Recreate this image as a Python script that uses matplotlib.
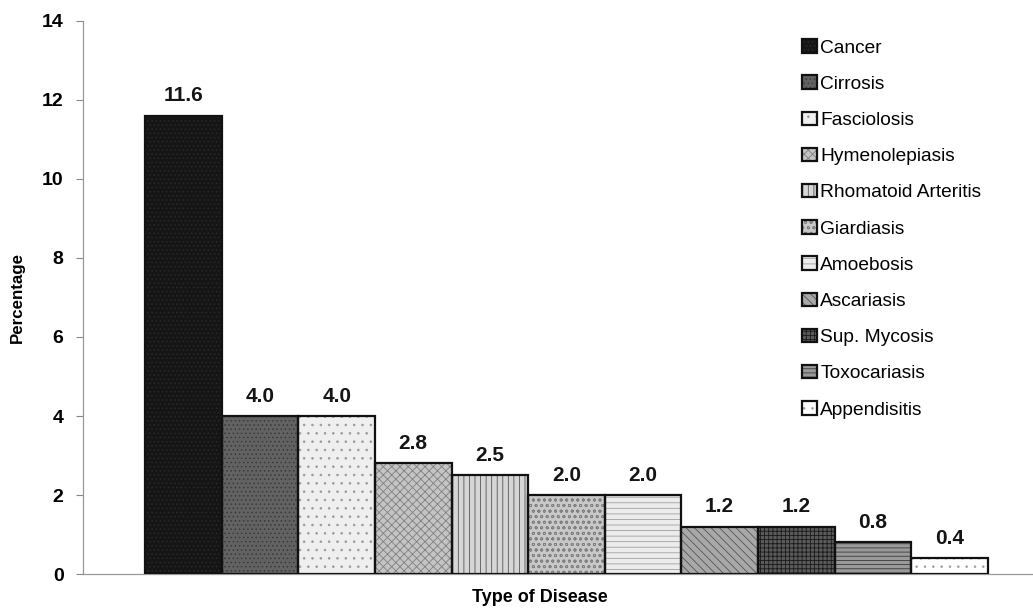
import matplotlib.pyplot as plt

plt.rcParams['font.family'] = ['Liberation Sans', 'DejaVu Sans']
plt.rcParams['hatch.linewidth'] = 0.6

# data
diseases = ["Cancer", "Cirrosis", "Fasciolosis", "Hymenolepiasis",
            "Rhomatoid Arteritis", "Giardiasis", "Amoebosis", "Ascariasis",
            "Sup. Mycosis", "Toxocariasis", "Appendisitis"]
percent = [11.6, 4.0, 4.0, 2.8, 2.5, 2.0, 2.0, 1.2, 1.2, 0.8, 0.4]
value_labels = ["11.6", "4.0", "4.0", "2.8", "2.5", "2.0", "2.0", "1.2", "1.2", "0.8", "0.4"]

# fill, hatch colour, hatch pattern per bar (grey-scale print look)
fills = ["#151515", "#626262", "#efefef", "#c4c4c4", "#d6d6d6", "#c8c8c8",
         "#ececec", "#a8a8a8", "#5a5a5a", "#9a9a9a", "#ffffff"]
hatch_cols = ["#2a2a2a", "#3a3a3a", "#9a9a9a", "#808080", "#555555", "#808080",
              "#a0a0a0", "#555555", "#1a1a1a", "#3a3a3a", "#a0a0a0"]
hatches = ["....", "....", "..", "xxxx", "|||", "ooo", "---", "\\\\\\\\",
           "++++", "----", ".."]

fig = plt.figure(figsize=(10.33, 6.10), dpi=100)
ax = fig.add_axes([0.0804, 0.059, 0.9196, 0.9066])

xs = list(range(len(diseases)))
handles = []
for i in xs:
    b = ax.bar(i, percent[i], width=1.0, color=fills[i], edgecolor=hatch_cols[i],
               hatch=hatches[i], linewidth=0, zorder=2)
    o = ax.bar(i, percent[i], width=1.0, fill=False, edgecolor="#111111",
               linewidth=1.6, zorder=3)
    handles.append((b[0], o[0]))
    ax.annotate(value_labels[i], (i, percent[i]), xytext=(0, 7.5),
                textcoords="offset points", ha="center", va="bottom",
                fontsize=15, fontweight="bold", color="#151515")

ax.set_xlim(-1.31, 11.09)
ax.set_ylim(0, 14)
ax.set_yticks(range(0, 15, 2))
ax.set_xticks([])
for t in ax.get_yticklabels():
    t.set_fontweight("bold")
    t.set_fontsize(14)
ax.tick_params(axis="y", length=5, width=0.8, color="#888888", pad=9)

ax.spines["top"].set_visible(False)
ax.spines["right"].set_visible(False)
ax.spines["left"].set_color("#999999")
ax.spines["bottom"].set_color("#999999")
ax.spines["left"].set_linewidth(0.9)
ax.spines["bottom"].set_linewidth(0.9)

ax.set_ylabel("Percentage", fontsize=12.2, fontweight="bold", labelpad=12)
fig.text(0.523, 0.02, "Type of Disease", ha="center", va="center",
         fontsize=13, fontweight="bold")

ax.legend(handles, diseases, loc="upper left", bbox_to_anchor=(0.749, 0.981),
          frameon=False, fontsize=13.8, labelspacing=0.98, handlelength=0.75,
          handleheight=0.7, handletextpad=0.2, borderaxespad=0)

fig.savefig("out.png", dpi=100, facecolor="white")
